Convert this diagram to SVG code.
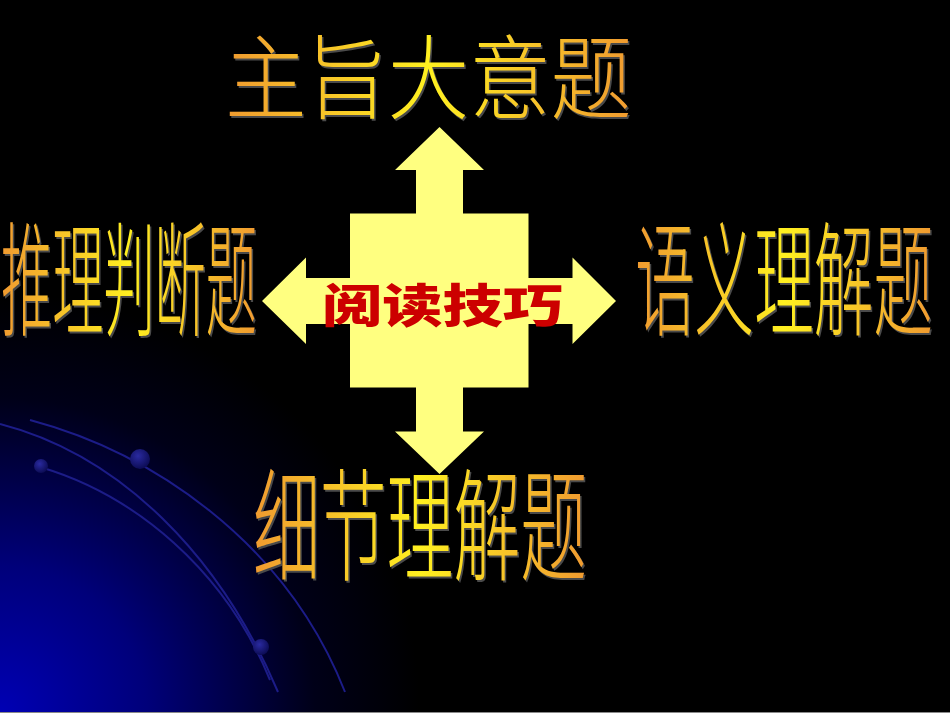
<svg xmlns="http://www.w3.org/2000/svg" width="950" height="713" viewBox="0 0 950 713">
  <defs>
    <radialGradient id="bgBlue" cx="0" cy="713" r="420" gradientUnits="userSpaceOnUse">
      <stop offset="0" stop-color="#0000B4"/>
      <stop offset="0.35" stop-color="#00007A"/>
      <stop offset="0.75" stop-color="#000018"/>
      <stop offset="1" stop-color="#000000"/>
    </radialGradient>
    <radialGradient id="ball" cx="0.4" cy="0.35" r="0.7">
      <stop offset="0" stop-color="#2a2aa0"/>
      <stop offset="1" stop-color="#0a0a50"/>
    </radialGradient>
    <linearGradient id="gold" x1="0" y1="0" x2="1" y2="0">
      <stop offset="0" stop-color="#F09A30"/>
      <stop offset="0.5" stop-color="#FFF020"/>
      <stop offset="1" stop-color="#F09A30"/>
    </linearGradient>
    <style>
      .title { font-family: "Noto Sans CJK SC", "Noto Sans CJK TC", sans-serif; font-weight: 300; fill: url(#gold); }
      .shadow { font-family: "Noto Sans CJK SC", "Noto Sans CJK TC", sans-serif; font-weight: 300; fill: #4a4a4a; }
      .center { font-family: "Noto Sans CJK SC", sans-serif; font-weight: 900; fill: #CC0000; }
      .arc { fill: none; stroke: #1c1c88; stroke-width: 2; }
    </style>
  </defs>

  <rect x="0" y="0" width="950" height="713" fill="#000"/>
  <rect x="0" y="0" width="950" height="713" fill="url(#bgBlue)"/>

  <g id="decoration">
    <path class="arc" d="M 30 420 C 150 452, 285 540, 345 692"/>
    <path class="arc" d="M 0 424 C 120 455, 220 555, 278 692"/>
    <path class="arc" d="M 40 467 C 135 495, 225 570, 270 680"/>
    <circle cx="140" cy="459" r="10" fill="url(#ball)"/>
    <circle cx="41" cy="466" r="7" fill="url(#ball)"/>
    <circle cx="261" cy="647" r="8" fill="url(#ball)"/>
    <line x1="0" y1="712.5" x2="950" y2="712.5" stroke="#8a8a8a" stroke-width="1"/>
  </g>

  <g id="connectors">
    <polygon id="cross-arrow" fill="#FFFF80" points="439.5,127 484,170 463,170 463,213.5 528.5,213.5 528.5,278 572.5,278 572.5,257.5 616,301 572.5,344 572.5,324 528.5,324 528.5,387.5 463,387.5 463,431.5 484,431.5 439.5,474 395,431.5 416,431.5 416,387.5 350,387.5 350,324 306,324 306,344 262,301 306,257.5 306,278 350,278 350,213.5 416,213.5 416,170 395,170"/>
  </g>

  <g id="node-center">
    <text class="center" x="322" y="322" font-size="46" textLength="241" lengthAdjust="spacingAndGlyphs">阅读技巧</text>
  </g>

  <g id="node-top">
    <text class="shadow" x="226.5" y="113.5" font-size="92" textLength="407" lengthAdjust="spacingAndGlyphs">主旨大意题</text>
    <text class="title" x="225" y="112" font-size="92" textLength="407" lengthAdjust="spacingAndGlyphs">主旨大意题</text>
  </g>

  <g id="node-left">
    <text class="shadow" x="2.5" y="327.5" font-size="124" textLength="256" lengthAdjust="spacingAndGlyphs">推理判断题</text>
    <text class="title" x="1" y="326" font-size="124" textLength="256" lengthAdjust="spacingAndGlyphs">推理判断题</text>
  </g>

  <g id="node-right">
    <text class="shadow" x="636.5" y="327.5" font-size="124" textLength="298" lengthAdjust="spacingAndGlyphs">语义理解题</text>
    <text class="title" x="635" y="326" font-size="124" textLength="298" lengthAdjust="spacingAndGlyphs">语义理解题</text>
  </g>

  <g id="node-bottom">
    <text class="shadow" x="254.5" y="572.5" font-size="122" textLength="334" lengthAdjust="spacingAndGlyphs">细节理解题</text>
    <text class="title" x="253" y="571" font-size="122" textLength="334" lengthAdjust="spacingAndGlyphs">细节理解题</text>
  </g>
</svg>
